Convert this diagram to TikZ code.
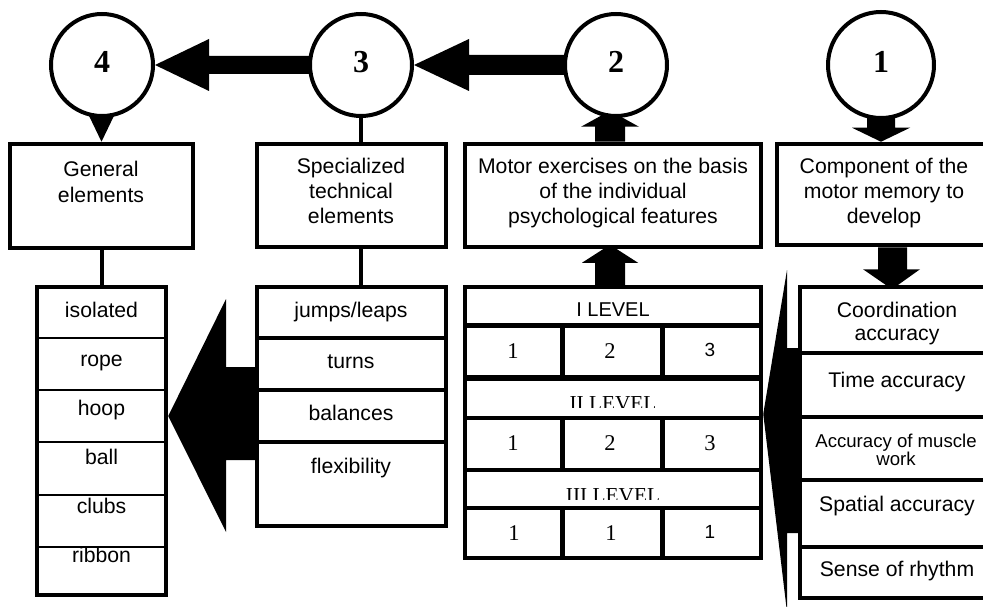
\documentclass[tikz,border=0pt]{standalone}
\usepackage{fontspec}
\setmainfont{Liberation Sans}
\newfontfamily\romanface{Liberation Serif}
\usetikzlibrary{calc,fit,backgrounds}

% multi-line centred label whose baseline is the first line's baseline
\newcommand\stack[1]{\begin{tabular}[t]{@{}c@{}}#1\end{tabular}}

\tikzset{
  boxframe/.style={draw, fill=white, line width=4.5pt, inner sep=0pt},
  ring/.style={circle, draw, fill=white, line width=4pt, minimum size=102pt, inner sep=0pt,
    text height=22pt, text depth=6pt,
    font=\romanface\bfseries\fontsize{32}{36}\selectfont},
  lbl/.style={inner sep=0pt, anchor=base, font=\fontsize{21.2}{25}\selectfont},
  smalllbl/.style={inner sep=0pt, anchor=base, font=\fontsize{18.6}{17}\selectfont},
  levellbl/.style={inner sep=0pt, anchor=base, font=\fontsize{20}{24}\selectfont},
  romanlbl/.style={inner sep=0pt, anchor=base, font=\romanface\fontsize{21.3}{25}\selectfont},
  digit/.style={inner sep=0pt, anchor=base, font=\romanface\fontsize{22.5}{26}\selectfont},
  sansdigit/.style={inner sep=0pt, anchor=base, font=\fontsize{19}{22}\selectfont},
  heavyrule/.style={line width=4.5pt},
  midrule/.style={line width=4pt},
  hairrule/.style={line width=1.5pt},
  blockfill/.style={fill=black},
}

\begin{document}
\begin{tikzpicture}[x=1pt,y=-1pt]
\useasboundingbox (0,0) rectangle (983,607);
\clip (0,0) rectangle (983,607);

% ---- stage circles ----
\node[ring] (c4) at (102,65) {4};
\node[ring] (c3) at (361,65) {3};
\node[ring] (c2) at (616,65) {2};
\node[ring, minimum size=106pt] (c1) at (881,65) {1};

% ---- headline boxes ----
\node[boxframe, fit={(10,144) (193,248)}] (gen) {};
\node[boxframe, fit={(257,144) (446,247)}] (spec) {};
\node[boxframe, fit={(465,144) (761,247)}] (mbox) {};
\node[boxframe, fit={(777,144) (989,245)}] (comp) {};

% ---- lists and tables ----
\node[boxframe, fit={(37,287) (166,595)}] (gtab) {};
\node[boxframe, fit={(257,287) (446,526)}] (stab) {};
\node[boxframe, fit={(465,287) (761,558)}] (mtab) {};
\node[boxframe, fit={(800,287) (994,598)}] (rtab) {};

% ---- block arrows, kept under circles and boxes ----
\begin{scope}[on background layer]
  \fill[white] (0,0) rectangle (983,607);
  % 3 -> 4
  \fill[blockfill] (c4.east) -- ++(54,-26) -- ++(0,17) -- (c3.center |- 0,56)
    -- (c3.center |- 0,74) -- ($(c4.east)+(54,9)$) -- ++(0,17) -- cycle;
  % 2 -> 3
  \fill[blockfill] (c3.east) -- ++(55,-26) -- ++(0,16) -- (c2.center |- 0,55)
    -- (c2.center |- 0,75) -- ($(c3.east)+(55,10)$) -- ++(0,16) -- cycle;
  % 4 -> general elements
  \fill[blockfill] (gen.north) -- ++(-12.5,-26) -- ++(25,0) -- cycle;
  % 1 -> component box
  \fill[blockfill] (c1 |- comp.north) -- ++(-29,-14) -- ++(15,0) -- ++(0,-30)
    -- ++(28,0) -- ++(0,30) -- ++(15,0) -- cycle;
  % motor exercises -> 2
  \fill[blockfill] ($(mbox.north)+(-18,0)$) -- ++(0,-15) -- ++(-14,0) -- ++(29,-16)
    -- ++(29,16) -- ++(-14,0) -- ++(0,15) -- cycle;
  % levels table -> motor exercises
  \fill[blockfill] ($(mtab.north)+(-18,0)$) -- ++(0,-22) -- ++(-13,0) -- ++(28,-18)
    -- ++(28,18) -- ++(-13,0) -- ++(0,22) -- cycle;
  % component box -> accuracy list
  \fill[blockfill] ($(comp.south)+(-5,0)$) -- ++(0,22) -- ++(-15,0) -- ++(29,20)
    -- ++(28,-20) -- ++(-13,0) -- ++(0,-22) -- cycle;
  % technical elements -> general elements list
  \fill[blockfill] (gtab.east |- 0,416) -- (226,299) -- (226,367) -- (stab.west |- 0,367)
    -- (stab.west |- 0,460) -- (226,460) -- (226,532) -- cycle;
  % accuracy list -> levels table
  \fill[blockfill] (mtab.east |- 0,414) -- (787,270) -- (787,348) -- (rtab.west |- 0,348)
    -- (rtab.west |- 0,533) -- (787,533) -- (787,612) -- cycle;
\end{scope}

% ---- plain connectors ----
\draw[midrule] (gen.south) -- (gtab.north);
\draw[midrule] (c3.south) -- (c3.south |- spec.north);
\draw[midrule] (spec.south -| c3) -- (stab.north -| c3);

% ---- row rules ----
\foreach \yy in {338,390,442,547} \draw[hairrule] (37,\yy) -- (166,\yy);
\draw[line width=2pt] (37,495) -- (166,495);
\foreach \yy in {338,390,442} \draw[heavyrule] (257,\yy) -- (446,\yy);
\draw[line width=5pt] (465,325) -- (761,325);
\draw[line width=6pt] (465,378) -- (761,378);
\foreach \yy in {418,470,508} \draw[midrule] (465,\yy) -- (761,\yy);
\foreach \xx in {562,662} {
  \draw[line width=5pt] (\xx,325) -- (\xx,378);
  \draw[line width=5pt] (\xx,418) -- (\xx,470);
  \draw[line width=5pt] (\xx,508) -- (\xx,558);
}
\foreach \yy in {353,417,480,547} \draw[midrule] (800,\yy) -- (994,\yy);

% ---- box texts ----
\node[lbl] (gent) at (101,176) {\stack{General\\[2pt]elements}};
\node[lbl] (spect) at (351,174) {\stack{Specialized\\technical\\elements}};
\node[lbl] (mboxt) at (613,174) {\stack{Motor exercises on the basis\\of the individual\\psychological features}};
\node[lbl] (compt) at (884,174) {\stack{Component of the\\motor memory to\\develop}};

% general elements list
\node[lbl] (g1) at (101.5,317) {isolated};
\node[lbl] (g2) at (101.5,366) {rope};
\node[lbl] (g3) at (101.5,415) {hoop};
\node[lbl] (g4) at (101.5,464) {ball};
\node[lbl] (g5) at (101.5,513) {clubs};
\node[lbl] (g6) at (101.5,562) {ribbon};

% technical elements list
\node[lbl] (s1) at (351,317) {jumps/leaps};
\node[lbl] (s2) at (351,368) {turns};
\node[lbl] (s3) at (351,420) {balances};
\node[lbl] (s4) at (351,473) {flexibility};

% levels table
\node[levellbl] (lv1) at (613,316) {I LEVEL};
\node[digit] (a1) at (513,358) {1};
\node[digit] (a2) at (610,358) {2};
\node[sansdigit] (a3) at (710,356) {3};
\begin{scope}
  \clip (465,380) rectangle (761,407.5);
  \node[romanlbl] (lv2) at (613,410.5) {II LEVEL};
\end{scope}
\node[digit] (b1) at (513,450) {1};
\node[digit] (b2) at (610,450) {2};
\node[digit] (b3) at (710,450) {3};
\begin{scope}
  \clip (465,472) rectangle (761,499);
  \node[romanlbl] (lv3) at (613,502) {III LEVEL};
\end{scope}
\node[digit] (d1) at (514,540) {1};
\node[digit] (d2) at (611,540) {1};
\node[sansdigit] (d3) at (710,538) {1};

% accuracy list
\node[lbl] (r1) at (897,317) {\stack{Coordination\\[-2pt]accuracy}};
\node[lbl] (r2) at (897,387) {Time accuracy};
\node[smalllbl] (r3) at (896,447) {\stack{Accuracy of muscle\\work}};
\node[lbl] (r4) at (897,511) {Spatial accuracy};
\node[lbl] (r5) at (897,576) {Sense of rhythm};
\end{tikzpicture}
\end{document}
